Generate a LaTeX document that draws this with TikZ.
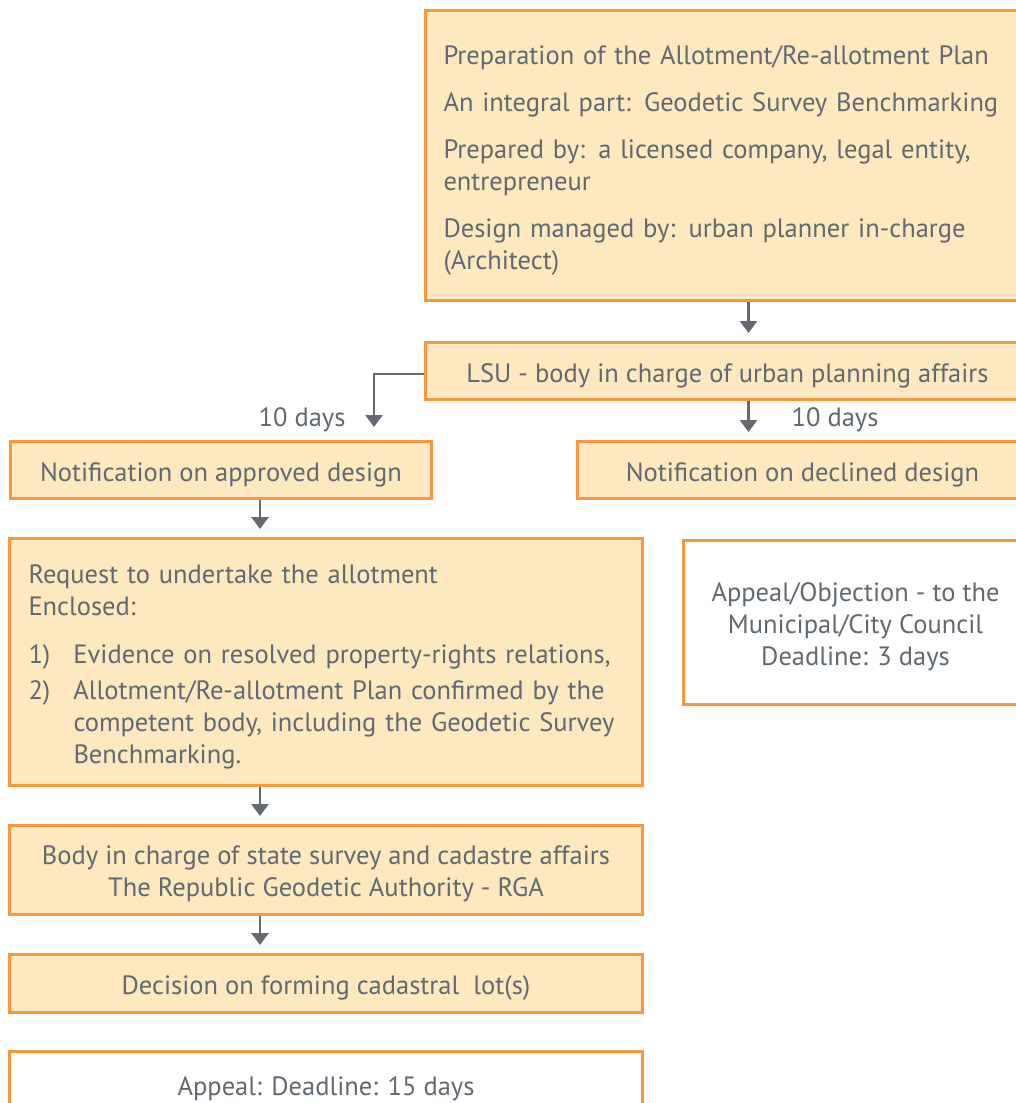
\documentclass[tikz,border=0pt]{standalone}
\usepackage{fontspec}
\setmainfont{PT Sans}
\usetikzlibrary{arrows.meta,calc}
\definecolor{boxfill}{RGB}{253,232,191}
\definecolor{boxline}{RGB}{244,153,66}
\definecolor{ink}{RGB}{96,104,113}
\definecolor{arrowc}{RGB}{100,105,112}
\newcommand\toplift[1]{\rule{0pt}{#1}}
\begin{document}
\begin{tikzpicture}[x=1pt,y=-1pt,
  every node/.style={text=ink, font=\fontsize{26.5}{32}\selectfont},
  box/.style={draw=boxline, line width=3pt, fill=boxfill, inner ysep=0pt, inner xsep=0pt,
    execute at begin node={\toplift{28pt}}},
  whitebox/.style={box, fill=white},
  arr/.style={draw=arrowc, line width=2.6pt, -{Triangle[width=17pt,length=12pt]}, shorten >=8pt}]
\useasboundingbox (0,0) rectangle (1016,1103);

% boxes
\node[box, anchor=north west, minimum height=290pt, text width=568pt, inner xsep=18pt, align=left]
  (plan) at (424,9)
  {Preparation of the Allotment/Re-allotment Plan\\[15pt]
   An integral part: Geodetic Survey Benchmarking\\[15pt]
   Prepared by: a licensed company, legal entity,\\
   entrepreneur\\[15pt]
   Design managed by: urban planner in-charge\\
   (Architect)};
\node[box, anchor=north west, minimum width=604pt, minimum height=57pt] (lsu) at (424,341)
  {LSU - body in charge of urban planning affairs};
\node[box, anchor=north west, minimum width=421pt, minimum height=57pt] (appr) at (9,440)
  {Notification on approved design};
\node[box, anchor=north west, minimum width=450pt, minimum height=57pt] (decl) at (576,440)
  {Notification on declined design};
\node[box, anchor=north west, minimum height=247pt, text width=595pt, inner xsep=19pt, align=left]
  (req) at (8,537)
  {Request to undertake the allotment\\
   Enclosed:\\[16pt]
   \makebox[45pt][l]{1)}Evidence on resolved property-rights relations,\\[4pt]
   \makebox[45pt][l]{2)}Allotment/Re-allotment Plan confirmed by the\\
   \hspace*{45pt}competent body, including the Geodetic Survey\\
   \hspace*{45pt}Benchmarking.};
\node[whitebox, anchor=north west, minimum width=344pt, minimum height=164pt, align=center]
  (obj) at (682,539)
  {\toplift{27pt}Appeal/Objection - to the\\ Municipal/City Council\\ Deadline: 3 days};
\node[box, anchor=north west, minimum width=633pt, minimum height=89pt, align=center]
  (rga) at (8,824)
  {\toplift{27pt}Body in charge of state survey and cadastre affairs\\
   The Republic Geodetic Authority - RGA};
\node[box, anchor=north west, minimum width=633pt, minimum height=58pt] (dec) at (8,953)
  {Decision on forming cadastral\ \ lot(s)};
\node[whitebox, anchor=north west, minimum width=633pt, minimum height=65pt] (app) at (8,1050)
  {Appeal: Deadline: 15 days};

% connectors
\coordinate (bend) at (374,374);
\draw[arr] ([xshift=21pt]plan.south) -- ([xshift=21pt]lsu.north);
\draw[arr, shorten >=13pt] (lsu.west |- bend) -- (bend) -- (bend |- appr.north);
\draw[arr] ([xshift=21pt]lsu.south) -- ([xshift=21pt]lsu.south |- decl.north);
\draw[arr] (appr.south -| 260,0) -- (req.north -| 260,0);
\draw[arr] (req.south -| 260,0) -- (rga.north -| 260,0);
\draw[arr] (rga.south -| 260,0) -- (dec.north -| 260,0);

% durations
\node (d1) at (302,420) {10 days};
\node (d2) at (835,420) {10 days};
\end{tikzpicture}
\end{document}
